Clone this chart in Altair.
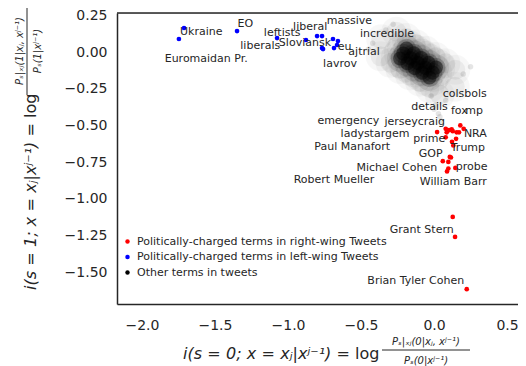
import altair as alt
import pandas as pd

RIGHT = "Politically-charged terms in right-wing Tweets"
LEFT = "Politically-charged terms in left-wing Tweets"
OTHER = "Other terms in tweets"

# politically-charged terms, left-wing (blue)
blue_x = [-1.712, -1.747, -1.349, -1.075, -0.877, -0.801, -0.767, -0.767, -0.760, -0.692, -0.658, -0.664, -0.685]
blue_y = [0.164, 0.089, 0.143, 0.095, 0.082, 0.109, 0.109, 0.027, 0.020, 0.089, 0.075, 0.048, 0.027]

# politically-charged terms, right-wing (red)
red_x = [0.021, 0.080, 0.087, 0.103, 0.121, 0.128, 0.155, 0.171, 0.180, 0.203, 0.080, 0.151,
         0.123, 0.132, 0.108, 0.116, 0.060, 0.098, 0.146, 0.098, 0.089, 0.128, 0.144, 0.224]
red_y = [-0.545, -0.523, -0.547, -0.532, -0.527, -0.539, -0.547, -0.547, -0.500, -0.523, -0.581, -0.591,
         -0.611, -0.636, -0.714, -0.718, -0.743, -0.748, -0.789, -0.793, -0.813, -1.123, -1.259, -1.615]

# other terms: dense core, halo and stray points of the grey cloud
core_x = [-0.232, -0.211, -0.189, -0.182, -0.160, -0.139, -0.132, -0.110, -0.088, -0.081, -0.060, -0.038, -0.031, -0.009, 0.013]
core_y = [-0.044, -0.010, 0.024, -0.076, -0.043, -0.009, -0.109, -0.075, -0.041, -0.141, -0.107, -0.074, -0.173, -0.140, -0.106]
halo_x = [-0.366, -0.258, -0.298, -0.190, -0.231, -0.123, -0.164, -0.056, -0.097, 0.011, -0.030, 0.078, 0.038, 0.146, -0.362, 0.142]
halo_y = [-0.029, 0.139, -0.073, 0.095, -0.116, 0.052, -0.159, 0.009, -0.202, -0.034, -0.245, -0.077, -0.289, -0.121, 0.087, -0.237]
stray_x = [-0.02, 0.01, 0.03, 0.05, -0.42, -0.45, -0.33, 0.20, 0.25, -0.28, 0.08, 0.00, 0.04]
stray_y = [-0.30, -0.36, -0.42, -0.47, 0.06, 0.02, 0.15, -0.15, -0.10, 0.19, -0.33, -0.39, -0.44]

# term annotations
label_text = ["Ukraine", "EO", "leftists", "liberal", "massive", "incredible", "liberals", "Sloviansk",
              "eu", "ajtrial", "lavrov", "Euromaidan Pr.", "colsbols", "details", "fox", "mp",
              "emergency", "jerseycraig", "ladystargem", "prime", "NRA", "Paul Manafort", "Trump",
              "GOP", "Michael Cohen", "probe", "Robert Mueller", "William Barr", "Grant Stern",
              "Brian Tyler Cohen"]
label_x = [-1.594, -1.292, -1.040, -0.848, -0.579, -0.322, -1.190, -0.884, -0.613, -0.479, -0.644, -1.560,
           0.210, -0.031, 0.173, 0.275, -0.587, -0.132, -0.404, -0.033, 0.283, -0.560, 0.232,
           -0.023, -0.255, 0.258, -0.685, 0.132, -0.084, -0.125]
label_y = [0.134, 0.191, 0.127, 0.172, 0.211, 0.123, 0.041, 0.063, 0.036, 0.002, -0.082, -0.050,
           -0.288, -0.373, -0.400, -0.404, -0.468, -0.475, -0.559, -0.595, -0.559, -0.650, -0.652,
           -0.693, -0.789, -0.786, -0.873, -0.888, -1.209, -1.561]

x_ticks = [-2.0, -1.5, -1.0, -0.5, 0.0, 0.5]
y_ticks = [0.25, 0.0, -0.25, -0.5, -0.75, -1.0, -1.25, -1.5]

INK = "#262626"
FONT = "DejaVu Sans"
W, H = 401, 291
SP = "\u2004"

pts = pd.concat([
    pd.DataFrame({"x": red_x, "y": red_y, "group": RIGHT}),
    pd.DataFrame({"x": blue_x, "y": blue_y, "group": LEFT}),
])
core = pd.DataFrame({"x": core_x, "y": core_y})
halo = pd.DataFrame({"x": halo_x, "y": halo_y})
stray = pd.DataFrame({"x": stray_x, "y": stray_y})
labels = pd.DataFrame({"x": label_x, "y": label_y, "t": label_text})

xs = alt.Scale(domain=[-2.171, 0.575], nice=False, zero=False)
ys = alt.Scale(domain=[-1.716, 0.266], nice=False, zero=False)
xax = alt.Axis(values=x_ticks, format=".1f", title=None, ticks=False, grid=False,
               labelFontSize=14, labelPadding=14, domainColor=INK, domainWidth=1.5,
               labelColor=INK, labelFont=FONT)
yax = alt.Axis(values=y_ticks, format=".2f", title=None, ticks=False, grid=False,
               labelFontSize=14, labelPadding=10, domainColor=INK, domainWidth=1.5,
               labelColor=INK, labelFont=FONT)


def X():
    return alt.X("x:Q", scale=xs, axis=xax)


def Y():
    return alt.Y("y:Q", scale=ys, axis=yax)


layers = []
# soft halo
for size, op in [(900, 0.03), (400, 0.05)]:
    layers.append(alt.Chart(halo).mark_circle(size=size, opacity=op, color="black").encode(x=X(), y=Y()))
# dense core, several radii for a soft edge
for size, op in [(1500, 0.035), (700, 0.07), (380, 0.2), (200, 0.45)]:
    layers.append(alt.Chart(core).mark_circle(size=size, opacity=op, color="black").encode(x=X(), y=Y()))
layers.append(alt.Chart(stray).mark_circle(size=30, opacity=0.1, color="black").encode(x=X(), y=Y()))

layers.append(alt.Chart(pts).mark_circle(size=22, opacity=1).encode(
    x=X(), y=Y(),
    color=alt.Color("group:N",
                    scale=alt.Scale(domain=[RIGHT, LEFT, OTHER], range=["#ff0000", "#0000ff", "#000000"]),
                    legend=alt.Legend(title=None, orient="none", legendX=5, legendY=223,
                                      labelFontSize=11, labelFont=FONT, labelColor=INK, labelLimit=0,
                                      symbolSize=20, symbolType="circle", symbolStrokeWidth=0,
                                      labelOffset=4, rowPadding=3.5)),
))

layers.append(alt.Chart(labels).mark_text(font=FONT, fontSize=11, color=INK, align="center",
                                          baseline="middle").encode(x=X(), y=Y(), text="t:N"))

one = alt.Data(values=[{}])
layers.append(alt.Chart(one).mark_rule(color=INK, strokeWidth=1.5).encode(
    x=alt.value(0), x2=alt.value(W), y=alt.value(0)))


def txt(s, x, y, size, italic=False, align="center", angle=0):
    kw = dict(font=FONT, fontSize=size, color=INK, align=align, baseline="middle")
    if italic:
        kw["fontStyle"] = "italic"
    if angle:
        kw["angle"] = angle
    return alt.Chart(one).mark_text(**kw).encode(x=alt.value(x), y=alt.value(y), text=alt.value(s))


main0 = f"i(s{SP}={SP}0;{SP}x{SP}={SP}xⱼ|xʲ⁻¹){SP}="
main1 = f"i(s{SP}={SP}1;{SP}x{SP}={SP}xⱼ|xʲ⁻¹){SP}="
# x-axis title
layers += [
    txt(main0, 233, 341, 16, italic=True, align="right"),
    txt("log", 238, 341, 16, align="left"),
    txt("Pₛ|ₓⱼ(0|xⱼ, xʲ⁻¹)", 309, 329, 10, italic=True),
    alt.Chart(one).mark_rule(color=INK, strokeWidth=1).encode(
        x=alt.value(265), x2=alt.value(353), y=alt.value(337)),
    txt("Pₛ(0|xʲ⁻¹)", 309, 348, 10, italic=True),
]
# y-axis title (rotated)
layers += [
    txt(main1, -86, 110, 16, italic=True, align="right", angle=270),
    txt("log", -86, 105, 16, align="left", angle=270),
    txt("Pₛ|ₓⱼ(1|xⱼ, xʲ⁻¹)", -97, 38, 10, italic=True, angle=270),
    alt.Chart(one).mark_rule(color=INK, strokeWidth=1).encode(
        x=alt.value(-90), y=alt.value(-6), y2=alt.value(82)),
    txt("Pₛ(1|xʲ⁻¹)", -79, 38, 10, italic=True, angle=270),
]

chart = alt.layer(*layers).properties(
    width=W, height=H,
    padding={"left": 109, "top": 5, "right": 0, "bottom": 62},
    autosize=alt.AutoSizeParams(type="none"),
).configure_view(stroke=None).configure(background="white")

chart.save("out.html", embed_options={"renderer": "svg", "actions": False})
